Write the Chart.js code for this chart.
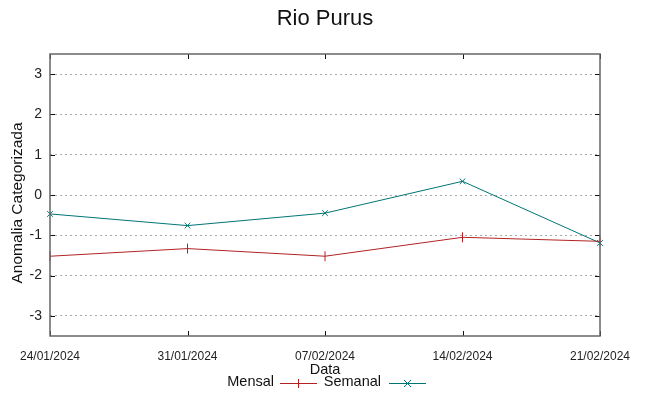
<!DOCTYPE html>
<html>
<head>
<meta charset="utf-8">
<script src="https://cdn.jsdelivr.net/npm/chart.js@4"></script>
<style>
  html, body { margin: 0; padding: 0; background: #fff; }
  #wrap { width: 649px; height: 396px; }
</style>
</head>
<body>
<div id="wrap"><canvas id="grafico" width="649" height="396"></canvas></div>
<script>
// datos
const datas = ["24/01/2024", "31/01/2024", "07/02/2024", "14/02/2024", "21/02/2024"];
const mensal = [-1.52, -1.33, -1.52, -1.05, -1.15];
const semanal = [-0.47, -0.76, -0.45, 0.34, -1.19];
const yTicks = [-3, -2, -1, 0, 1, 2, 3];

const corMensal = "#b22222";
const corSemanal = "#007575";
const fonte = "'Liberation Sans', Arial, sans-serif";

// bordes, marcas hacia dentro y textos al estilo gnuplot
const estiloGnuplot = {
  id: "estiloGnuplot",
  afterDatasetsDraw(chart) {
    const ctx = chart.ctx;
    const a = chart.chartArea;
    const y = chart.scales.y;
    const x = chart.scales.x;
    ctx.save();
    ctx.strokeStyle = "#111";
    ctx.lineWidth = 1;
    ctx.beginPath();
    yTicks.forEach(function (v) {
      const py = Math.round(y.getPixelForValue(v)) + 0.5;
      ctx.moveTo(a.left, py); ctx.lineTo(a.left + 5, py);
      ctx.moveTo(a.right, py); ctx.lineTo(a.right - 5, py);
    });
    datas.forEach(function (d, i) {
      const px = Math.round(x.getPixelForValue(i)) + 0.5;
      ctx.moveTo(px, a.bottom); ctx.lineTo(px, a.bottom - 5);
      ctx.moveTo(px, a.top); ctx.lineTo(px, a.top + 5);
    });
    ctx.stroke();
    ctx.strokeStyle = "#666";
    ctx.lineWidth = 1.5;
    ctx.strokeRect(a.left, a.top, a.right - a.left, a.bottom - a.top);

    ctx.fillStyle = "#111";
    ctx.textAlign = "center";
    ctx.textBaseline = "middle";
    ctx.font = "22px " + fonte;
    ctx.fillText("Rio Purus", 325, 19);
    ctx.font = "14.5px " + fonte;
    ctx.fillText("Data", 325, 370);
    ctx.save();
    ctx.translate(18, 203);
    ctx.rotate(-Math.PI / 2);
    ctx.font = "15.5px " + fonte;
    ctx.fillText("Anomalia Categorizada", 0, 0);
    ctx.restore();

    // leyenda: texto y luego la muestra
    ctx.textAlign = "right";
    ctx.fillText("Mensal", 274, 382);
    ctx.fillText("Semanal", 381, 382);
    const muestras = [
      { x0: 280, x1: 317, color: corMensal, cruz: "+" },
      { x0: 389, x1: 426, color: corSemanal, cruz: "x" },
    ];
    muestras.forEach(function (m) {
      ctx.strokeStyle = m.color;
      ctx.lineWidth = 1;
      ctx.beginPath();
      ctx.moveTo(m.x0, 383.5); ctx.lineTo(m.x1, 383.5);
      const cx = (m.x0 + m.x1) / 2;
      if (m.cruz === "+") {
        ctx.moveTo(cx, 379); ctx.lineTo(cx, 388);
      } else {
        ctx.moveTo(cx - 3.5, 380); ctx.lineTo(cx + 3.5, 387);
        ctx.moveTo(cx + 3.5, 380); ctx.lineTo(cx - 3.5, 387);
      }
      ctx.stroke();
    });
    ctx.restore();
  },
};

document.addEventListener("DOMContentLoaded", function () {
  const ctx = document.getElementById("grafico").getContext("2d");
  new Chart(ctx, {
    type: "line",
    data: {
      labels: datas,
      datasets: [
        {
          label: "Mensal",
          data: mensal,
          borderColor: corMensal,
          backgroundColor: corMensal,
          borderWidth: 1,
          pointStyle: "line",
          pointRotation: 90,
          pointRadius: 5,
          pointBorderWidth: 1,
          tension: 0,
        },
        {
          label: "Semanal",
          data: semanal,
          borderColor: corSemanal,
          backgroundColor: corSemanal,
          borderWidth: 1,
          pointStyle: "crossRot",
          pointRadius: 4,
          pointBorderWidth: 1,
          tension: 0,
        },
      ],
    },
    options: {
      responsive: false,
      animation: false,
      layout: { padding: { top: 54, right: 49, left: 0, bottom: 0 } },
      plugins: {
        legend: { display: false },
        title: { display: false },
        tooltip: { enabled: false },
      },
      scales: {
        x: {
          offset: false,
          grid: { display: false, drawTicks: false },
          border: { display: false },
          ticks: {
            autoSkip: false,
            maxRotation: 0,
            padding: 13,
            color: "#222",
            font: { family: fonte, size: 12 },
          },
          afterFit: function (s) { s.height = 60; },
        },
        y: {
          min: -3.5,
          max: 3.5,
          afterBuildTicks: function (s) {
            s.ticks = yTicks.map(function (v) { return { value: v }; });
          },
          grid: {
            color: "#aaa",
            lineWidth: 1,
            drawTicks: false,
          },
          border: { display: false, dash: [2, 3] },
          ticks: {
            padding: 8,
            color: "#222",
            font: { family: fonte, size: 14 },
          },
          afterFit: function (s) { s.width = 50; },
        },
      },
    },
    plugins: [estiloGnuplot],
  });
});
</script>
</body>
</html>
